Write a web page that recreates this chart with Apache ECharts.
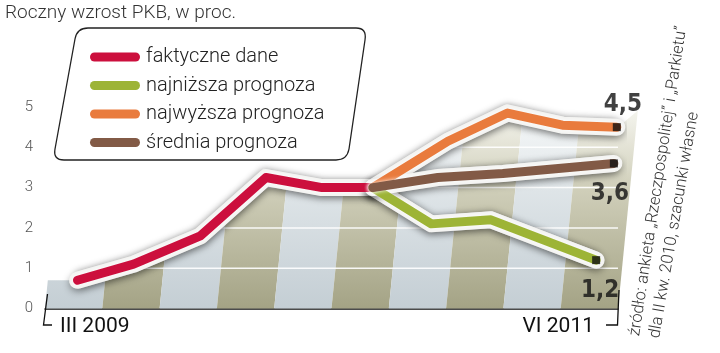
<!DOCTYPE html>
<html>
<head>
<meta charset="utf-8">
<script src="https://cdn.jsdelivr.net/npm/echarts@6/dist/echarts.min.js"></script>
<style>html,body{margin:0;padding:0;background:#fff}#c{width:720px;height:353px}</style>
</head>
<body>
<div id="c"></div>
<script>
// ---- data ----
const titleText = 'Roczny wzrost PKB, w proc.';
const seriesNames = ['faktyczne dane', 'najniższa prognoza', 'najwyższa prognoza', 'średnia prognoza'];
const seriesColors = ['#cc0f3d', '#9db436', '#e97b3d', '#825a46'];
// x = position in quarters counted from III 2009
const actualX = [0, 0.95, 2.08, 3.19, 4.14, 5.0];
const actualY = [0.7, 1.1, 1.8, 3.25, 3.0, 3.0];
const lowX = [5.0, 5.99, 7.0, 8.78];
const lowY = [3.0, 2.1, 2.2, 1.2];
const highX = [5.0, 6.27, 7.28, 8.21, 9.13];
const highY = [3.0, 4.15, 4.85, 4.55, 4.5];
const avgX = [5.0, 6.1, 7.2, 9.08];
const avgY = [3.0, 3.25, 3.35, 3.6];
const endLabels = ['1,2', '4,5', '3,6'];
const xLabels = ['III 2009', 'VI 2011'];
const yTicks = [0, 1, 2, 3, 4, 5];
const gridValues = [1, 2, 3, 4];
const sourceLines = ['źródło: ankieta „Rzeczpospolitej” i „Parkietu”', 'dla II kw. 2010, szacunki własne'];

const xMin = -0.55, xMax = 9.15, stripeCount = 10;

const pts = (xs, ys) => xs.map((x, i) => [x, ys[i]]);
const allLines = [pts(actualX, actualY), pts(lowX, lowY), pts(highX, highY), pts(avgX, avgY)];
const envelope = [[xMin, actualY[0]]].concat(allLines[0], allLines[2].slice(1), [[xMax, highY[highY.length - 1]]]);

const chart = echarts.init(document.getElementById('c'), null, {renderer: 'canvas'});

const HALO = '#f4f4f2';
const haloSeries = allLines.map((data, idx) => ({
  type: 'line', id: 'halo' + idx, name: 'halo' + idx, data: data.map(p => p.slice()),
  symbol: 'none', z: 4, silent: true,
  itemStyle: {color: HALO},
  lineStyle: {width: 17, color: HALO, cap: 'round', join: 'round',
    shadowColor: 'rgba(0,0,0,0.35)', shadowBlur: 7, shadowOffsetY: 3}
}));
const lineSeries = allLines.map((data, idx) => ({
  type: 'line', id: 'line' + idx, name: seriesNames[idx], data: data.map(p => p.slice()),
  symbol: 'none', z: 6 + idx, silent: true,
  itemStyle: {color: seriesColors[idx]},
  lineStyle: {width: 9, color: seriesColors[idx], cap: 'round', join: 'round',
    shadowColor: 'rgba(255,255,255,0.95)', shadowBlur: 4}
}));

const endPoints = [
  {value: [lowX[lowX.length - 1], lowY[lowY.length - 1]], label: {position: 'bottom', distance: 15, offset: [4, 0]}},
  {value: [highX[highX.length - 1], highY[highY.length - 1]], label: {position: 'top', distance: 6, offset: [6, 0]}},
  {value: [avgX[avgX.length - 1], avgY[avgY.length - 1]], label: {position: 'bottom', distance: 14, offset: [-4, 0]}}
];

function renderBackground(params, api) {
  const children = [];
  let z2 = 0;
  const w = (xMax - xMin) / stripeCount;
  for (let i = 0; i < stripeCount; i++) {
    const x0 = xMin + i * w, x1 = x0 + w;
    const b0 = api.coord([x0, 0]), b1 = api.coord([x1, 0]);
    const t = api.coord([x0, 5]);
    const skew = 0.1 * (b0[1] - t[1]);
    const olive = i % 2 === 1;
    const stops = olive
      ? [{offset: 0, color: '#f6f6f0'}, {offset: 0.4, color: '#d0cfba'}, {offset: 1, color: '#a4a385'}]
      : [{offset: 0, color: '#f8fafa'}, {offset: 0.4, color: '#dfe5e8'}, {offset: 1, color: '#c4ced4'}];
    children.push({type: 'polygon', z2: z2++,
      shape: {points: [[b0[0], b0[1]], [b1[0], b1[1]], [b1[0] + skew, t[1]], [b0[0] + skew, t[1]]]},
      style: {fill: {type: 'linear', x: 0, y: 0, x2: 0, y2: 1, colorStops: stops, global: false}}});
  }
  gridValues.forEach(v => {
    const a = api.coord([xMin, v]), b = api.coord([xMax, v]);
    children.push({type: 'line', z2: z2++, shape: {x1: a[0], y1: a[1], x2: b[0], y2: b[1]},
      style: {stroke: '#ffffff', lineWidth: 1.5, opacity: 0.9}});
  });
  const maskPts = envelope.map(p => api.coord(p));
  const tr = api.coord([xMax, 5]), tl = api.coord([xMin, 5]);
  maskPts.push([tr[0] + 30, tr[1] - 5], [tl[0], tl[1] - 5]);
  children.push({type: 'polygon', z2: z2++, shape: {points: maskPts}, style: {fill: '#ffffff'}});
  allLines.forEach(data => {
    children.push({type: 'polyline', z2: z2++, shape: {points: data.map(p => api.coord(p))},
      style: {stroke: HALO, fill: null, lineWidth: 17, shadowColor: 'rgba(0,0,0,0.3)', shadowBlur: 7}});
  });
  return {type: 'group', children};
}

const option = {
  animation: false,
  grid: {left: 45, right: 102, top: 107, bottom: 44.5},
  xAxis: {type: 'value', min: xMin, max: xMax,
    axisLine: {show: true, lineStyle: {color: '#111', width: 1.5}},
    axisTick: {show: false}, axisLabel: {show: false}, splitLine: {show: false}},
  yAxis: {type: 'value', min: yTicks[0], max: yTicks[yTicks.length - 1], interval: 1,
    axisLine: {show: false}, axisTick: {show: false}, splitLine: {show: false},
    axisLabel: {color: '#555', fontSize: 15, fontFamily: 'Roboto', fontWeight: 300, margin: 12}},
  legend: {
    data: seriesNames, orient: 'vertical', left: 85, top: 41, z: 30,
    itemWidth: 52, itemHeight: 9, itemGap: 6.5,
    icon: 'path://M4.5,0 L45.5,0 A4.5,4.5 0 0 1 45.5,9 L4.5,9 A4.5,4.5 0 0 1 4.5,0 Z',
    textStyle: {fontSize: 20, lineHeight: 22, color: '#222', fontFamily: 'Roboto', fontWeight: 300},
    selectedMode: false
  },
  graphic: [
    {type: 'text', left: 5, top: 4, z: 30, style: {text: titleText, fontSize: 19, fill: '#333', fontFamily: 'Roboto', fontWeight: 300}},
    {type: 'polyline', z: 25, shape: {points: [[47.5, 294], [43.5, 325], [52, 325]]}, style: {stroke: '#111', lineWidth: 1.3, fill: null}},
    {type: 'polyline', z: 25, shape: {points: [[619, 290], [617.5, 325], [606, 325]]}, style: {stroke: '#111', lineWidth: 1.3, fill: null}},
    {type: 'text', x: 60, y: 327, z: 30, style: {text: xLabels[0], fontSize: 21, fill: '#111', fontFamily: 'Roboto', textVerticalAlign: 'middle'}},
    {type: 'text', x: 594, y: 327, z: 30, style: {text: xLabels[1], fontSize: 21, fill: '#111', fontFamily: 'Roboto', textAlign: 'right', textVerticalAlign: 'middle'}},
    {type: 'text', x: 635, y: 336, rotation: 1.42, z: 30, style: {text: sourceLines[0], fontSize: 16.5, fill: '#333', fontFamily: 'Roboto', fontWeight: 300, textVerticalAlign: 'middle'}},
    {type: 'text', x: 655, y: 338, rotation: 1.40, z: 30, style: {text: sourceLines[1], fontSize: 16.5, fill: '#333', fontFamily: 'Roboto', fontWeight: 300, textVerticalAlign: 'middle'}}
  ],
  series: [
    {type: 'custom', id: 'bg', z: 1, silent: true, clip: false, data: [[0, 0]], renderItem: renderBackground},
    ...haloSeries,
    ...lineSeries,
    {
      type: 'scatter', name: 'end', z: 20, silent: true, symbol: 'rect', symbolSize: 8,
      itemStyle: {color: '#111'},
      data: endPoints,
      label: {show: true, formatter: p => endLabels[p.dataIndex], color: '#111', fontSize: 24, fontWeight: 'bold',
        fontFamily: "'Liberation Sans Narrow', 'DejaVu Sans Condensed', 'Roboto Condensed', sans-serif"}
    },
    {
      type: 'custom', coordinateSystem: 'none', z: 25, silent: true, data: [[0]],
      renderItem: function () {
        return {type: 'path', shape: {pathData: 'M88,28 L356,28 Q367,28 365,40 L349,149 Q347,160 336,160 L64,160 Q53,160 55,149 L75,39 Q77,28 88,28 Z'},
          style: {fill: '#fff', stroke: '#222', lineWidth: 1.3}};
      }
    }
  ]
};
chart.setOption(option);
</script>
</body>
</html>
